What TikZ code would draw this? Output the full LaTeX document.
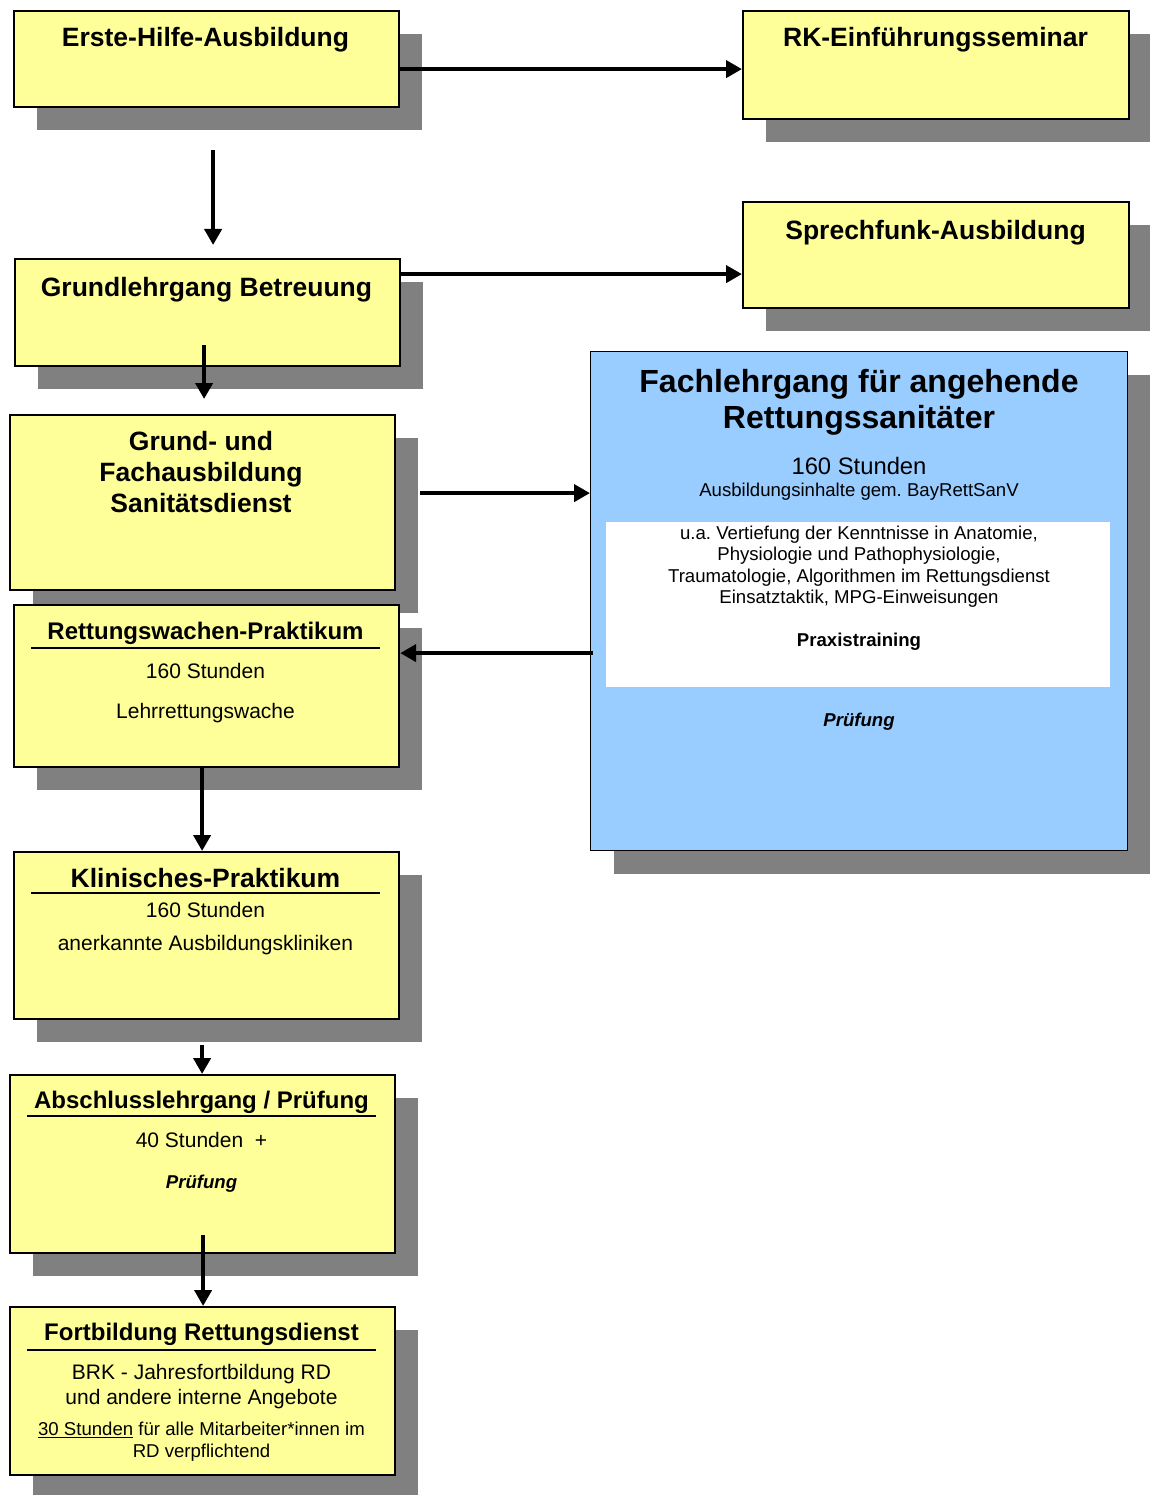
\documentclass[tikz,border=0pt]{standalone}
\usepackage{fontspec}
\setmainfont{Liberation Sans}
\usetikzlibrary{arrows.meta,shadows}
\frenchspacing

\definecolor{hellgelb}{HTML}{FFFF99}
\definecolor{hellblau}{HTML}{99CCFF}
\definecolor{schatten}{HTML}{808080}

\tikzset{
  kasten/.style={draw=black, line width=2.2pt, fill=hellgelb, anchor=north west, inner sep=0pt,
    drop shadow={shadow xshift=23pt, shadow yshift=-23pt, fill=schatten, opacity=1}},
  blaukasten/.style={kasten, fill=hellblau, line width=1pt},
  titel/.style={font=\bfseries\fontsize{26.5}{31}\selectfont, align=center, anchor=base, inner sep=0pt},
  untertitel/.style={font=\bfseries\fontsize{24}{28}\selectfont, anchor=base, inner sep=0pt},
  grosstitel/.style={font=\bfseries\fontsize{32}{36}\selectfont, align=center, anchor=base, inner sep=0pt},
  normal/.style={font=\fontsize{21}{25}\selectfont, align=center, anchor=base, inner sep=0pt},
  klein/.style={font=\fontsize{18.6}{21.5}\selectfont, align=center, anchor=base, inner sep=0pt},
  strich/.style={line width=2pt},
  pfeil/.style={line width=4pt, -{Triangle[length=16pt,width=17pt]}}
}

\begin{document}
\begin{tikzpicture}[x=1pt,y=-1pt]
\useasboundingbox (0,0) rectangle (1149,1495);

% Kaesten
\node[kasten, minimum width=385pt, minimum height=96pt] (ersthilfe) at (13,10) {};
\node[kasten, minimum width=386pt, minimum height=108pt] (rkseminar) at (742,10) {};
\node[kasten, minimum width=386pt, minimum height=106pt] (sprechfunk) at (742,201) {};
\node[kasten, minimum width=385pt, minimum height=107pt] (grundbetr) at (14,258) {};
\node[blaukasten, minimum width=537pt, minimum height=499pt] (fachlehrgang) at (590,351) {};
\node[kasten, minimum width=385pt, minimum height=175pt] (grundfach) at (9,414) {};
\node[kasten, minimum width=385pt, minimum height=162pt] (rettwache) at (13,604) {};
\node[kasten, minimum width=385pt, minimum height=167pt] (klinik) at (13,851) {};
\node[kasten, minimum width=385pt, minimum height=178pt] (abschluss) at (9,1074) {};
\node[kasten, minimum width=385pt, minimum height=168pt] (fortbildung) at (9,1306) {};

\fill[white] (606,522) rectangle (1110,687);

% Texte (bei mehrzeiligen: Grundlinie der letzten Zeile)
\node[titel] (t1) at (205.5,46.5) {Erste-Hilfe-Ausbildung};
\node[titel] (t2) at (935.5,46.5) {RK-Einführungsseminar};
\node[titel] (t3) at (935.5,239.5) {Sprechfunk-Ausbildung};
\node[titel] (t4) at (206.5,296.5) {Grundlehrgang Betreuung};
\node[titel] (t5) at (201,512.5) {Grund- und\\Fachausbildung\\Sanitätsdienst};

\node[grosstitel] (t6) at (859,428.5) {Fachlehrgang für angehende\\Rettungssanitäter};
\node[normal, font=\fontsize{23.8}{27}\selectfont] (t7) at (859,474.5) {160 Stunden};
\node[klein] (t8) at (859,496.5) {Ausbildungsinhalte gem. BayRettSanV};
\node[klein] (t9) at (859,603.5) {u.a. Vertiefung der Kenntnisse in Anatomie,\\Physiologie und Pathophysiologie,\\Traumatologie, Algorithmen im Rettungsdienst\\Einsatztaktik, MPG-Einweisungen};
\node[klein, font=\bfseries\fontsize{18.6}{21.5}\selectfont] (t10) at (859,646.5) {Praxistraining};
\node[klein, font=\bfseries\itshape\fontsize{18.6}{21.5}\selectfont] (t11) at (859,726.5) {Prüfung};

\node[untertitel] (t12) at (205.5,639.5) {Rettungswachen-Praktikum};
\draw[strich] (31,648) -- (380,648);
\node[normal] (t13) at (205.5,678.5) {160 Stunden};
\node[normal] (t14) at (205.5,718.5) {Lehrrettungswache};

\node[titel] (t15) at (205.5,887.5) {Klinisches-Praktikum};
\draw[strich] (31,893) -- (380,893);
\node[normal] (t16) at (205.5,917.5) {160 Stunden};
\node[normal] (t17) at (205.5,950.5) {anerkannte Ausbildungskliniken};

\node[untertitel] (t18) at (201.5,1108.5) {Abschlusslehrgang / Prüfung};
\draw[strich] (27,1116) -- (376,1116);
\node[normal] (t19) at (201.5,1147.5) {40 Stunden~~+};
\node[klein, font=\bfseries\itshape\fontsize{18.6}{21.5}\selectfont] (t20) at (201.5,1188.5) {Prüfung};

\node[untertitel] (t21) at (201.5,1340.5) {Fortbildung Rettungsdienst};
\draw[strich] (27,1350) -- (376,1350);
\node[normal] (t22) at (201.5,1404.5) {BRK - Jahresfortbildung RD\\und andere interne Angebote};
\node[klein, font=\fontsize{18.6}{22}\selectfont] (t23) at (201.5,1457.5) {\underline{30 Stunden} für alle Mitarbeiter*innen im\\RD verpflichtend};

% Pfeile
\coordinate (p1) at ([yshift=-10pt]ersthilfe.east);
\draw[pfeil] ([xshift=-2pt]p1) -- (p1 -| rkseminar.west);
\draw[pfeil] ([xshift=6.5pt,yshift=-42pt]ersthilfe.south) -- ([xshift=5.5pt,yshift=13pt]grundbetr.north);
\coordinate (p3) at ([yshift=38.5pt]grundbetr.east);
\draw[pfeil] ([xshift=-2pt]p3) -- (p3 -| sprechfunk.west);
\draw[pfeil] ([xshift=-3.5pt,yshift=22pt]grundbetr.south) -- ([xshift=1.5pt,yshift=15pt]grundfach.north);
\coordinate (p5) at ([xshift=24pt,yshift=9.5pt]grundfach.east);
\draw[pfeil] (p5) -- (p5 -| fachlehrgang.west);
\coordinate (p6) at ([yshift=33pt]rettwache.east);
\coordinate (p6a) at ([xshift=3pt]fachlehrgang.west |- p6);
\draw[pfeil] (p6a) -- (p6);
\draw[pfeil] ([xshift=-4.5pt]rettwache.south) -- ([xshift=-4.5pt]klinik.north);
\draw[pfeil] ([xshift=-4.5pt,yshift=-25pt]klinik.south) -- ([xshift=-0.5pt]abschluss.north);
\draw[pfeil] ([xshift=0.5pt,yshift=19pt]abschluss.south) -- ([xshift=0.5pt]fortbildung.north);

\end{tikzpicture}
\end{document}
